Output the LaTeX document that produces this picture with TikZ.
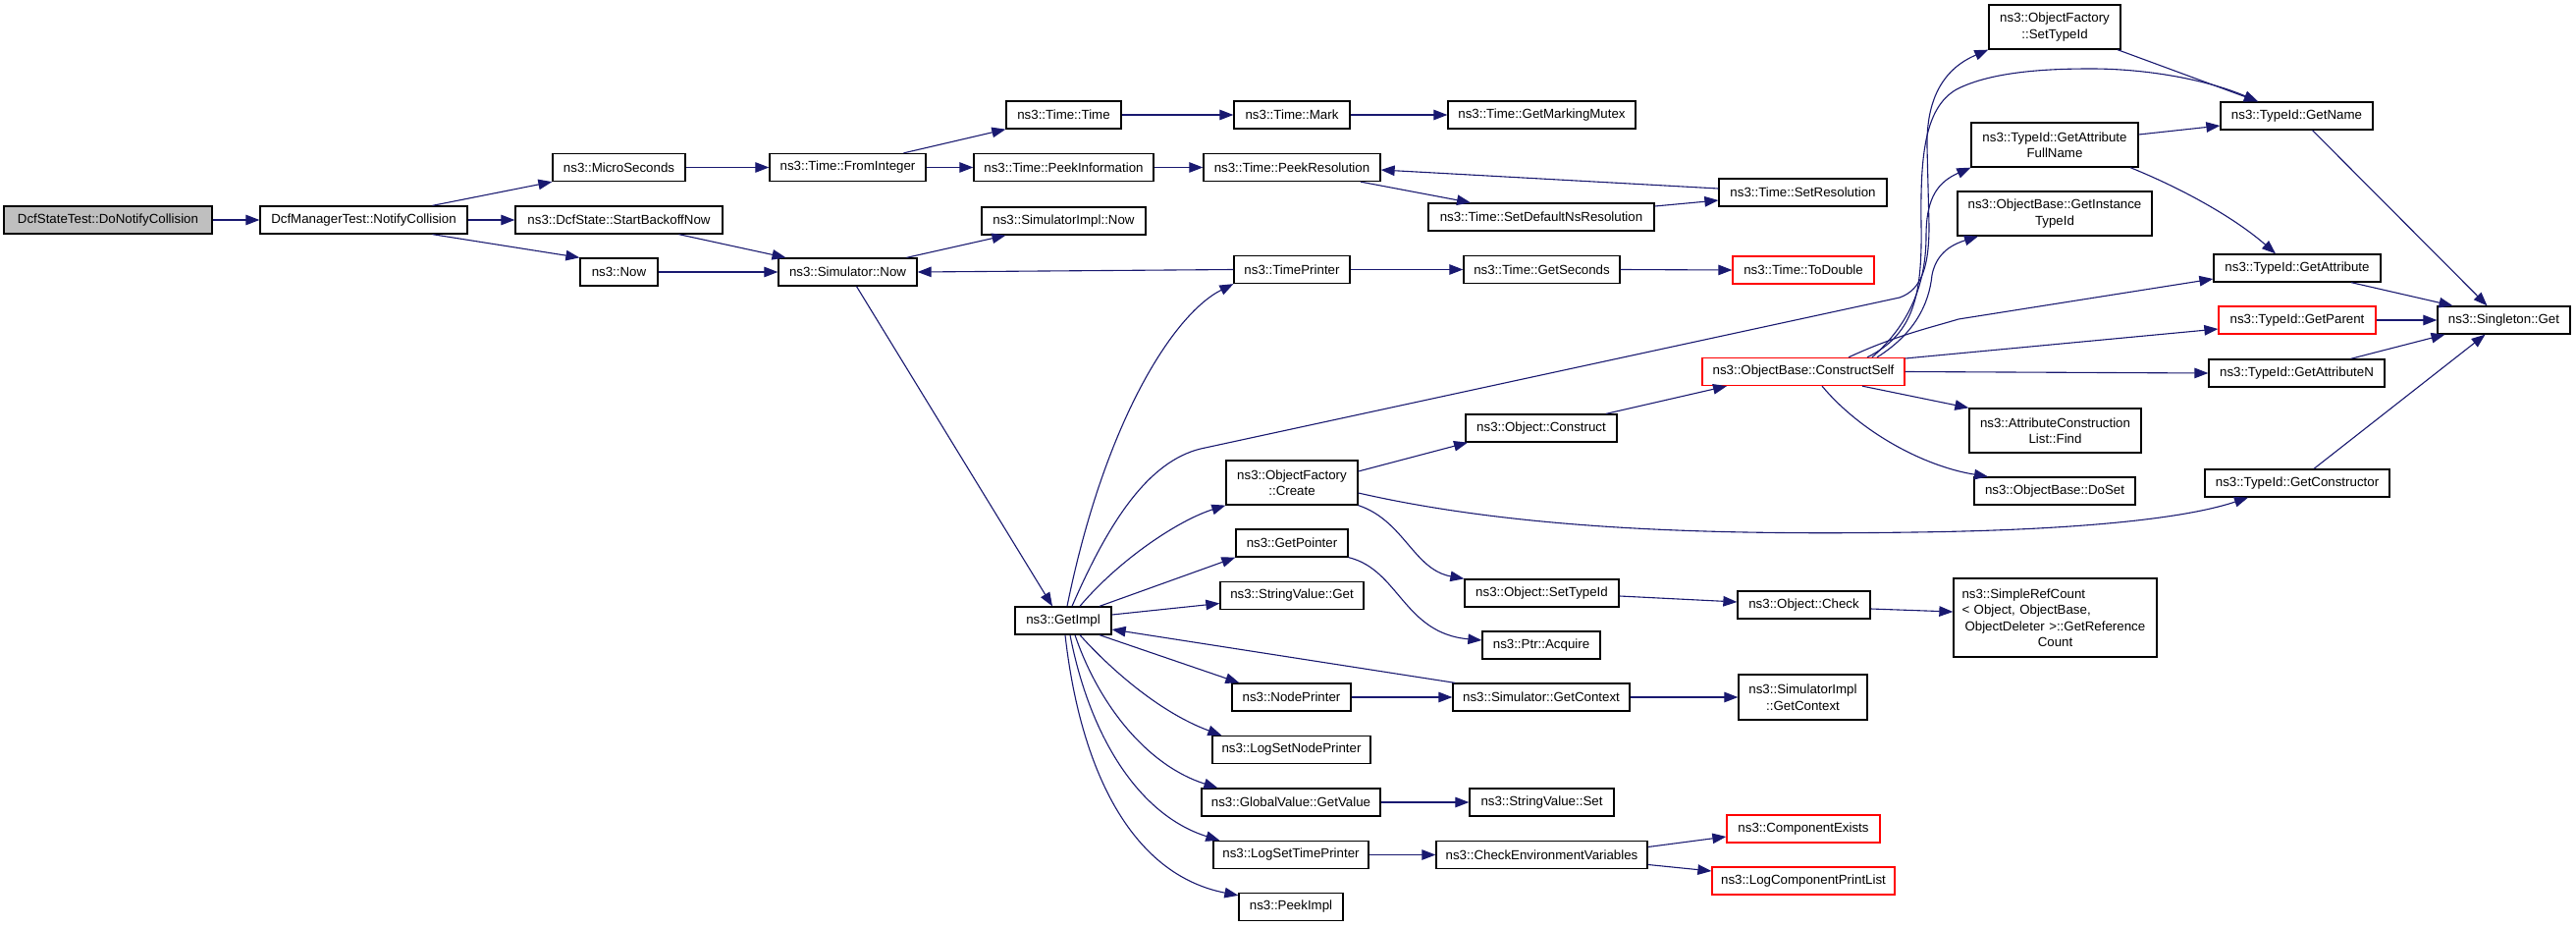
\documentclass[tikz,border=0pt]{standalone}
\usepackage{fontspec}
\setmainfont{Liberation Sans}
\usetikzlibrary{arrows.meta}
\definecolor{edgecol}{HTML}{191970}
\definecolor{rootfill}{HTML}{BFBFBF}
\definecolor{redb}{HTML}{FF0000}
\begin{document}
\begin{tikzpicture}[x=1pt,y=-1pt,
  box/.style={draw=black, line width=1.3pt, inner sep=0pt, minimum height=28pt, align=center,
    font=\fontsize{13.3}{16.5}\selectfont},
  box2/.style={box, minimum height=45pt},
  redbox/.style={box, draw=redb},
  cg/.style={draw=edgecol, line width=1.1pt, -{Triangle[length=14pt,width=10.5pt]}}]
\useasboundingbox[fill=white] (0,0) rectangle (2624,944);

% nodes
\node[box, fill=rootfill, minimum width=212pt] (dnc) at (110,224) {DcfStateTest::DoNotifyCollision};
\node[box, minimum width=211pt] (nc) at (370.5,224) {DcfManagerTest::NotifyCollision};
\node[box, minimum width=135pt] (micro) at (630.5,170.5) {ns3::MicroSeconds};
\node[box, minimum width=211pt] (sbn) at (630.5,224) {ns3::DcfState::StartBackoffNow};
\node[box, minimum width=79pt] (now) at (630.5,277) {ns3::Now};
\node[box, minimum width=159pt] (fromint) at (863.5,170.5) {ns3::Time::FromInteger};
\node[box, minimum width=117pt] (ttime) at (1083.5,117) {ns3::Time::Time};
\node[box, minimum width=183pt] (peekinfo) at (1083.5,170.5) {ns3::Time::PeekInformation};
\node[box, minimum width=118pt] (mark) at (1316,117) {ns3::Time::Mark};
\node[box, minimum width=191pt] (mutex) at (1570.5,117) {ns3::Time::GetMarkingMutex};
\node[box, minimum width=180pt] (peekres) at (1316,170.5) {ns3::Time::PeekResolution};
\node[box, minimum width=230pt] (setdef) at (1570,221) {ns3::Time::SetDefaultNsResolution};
\node[box, minimum width=171pt] (setres) at (1836.5,196) {ns3::Time::SetResolution};
\node[box, minimum width=141pt] (simnow) at (863.5,277) {ns3::Simulator::Now};
\node[box, minimum width=167pt] (simimplnow) at (1083.5,225) {ns3::SimulatorImpl::Now};
\node[box, minimum width=118pt] (timeprinter) at (1316,274.5) {ns3::TimePrinter};
\node[box, minimum width=159pt] (getsec) at (1570.5,274.5) {ns3::Time::GetSeconds};
\node[redbox, minimum width=144pt] (todouble) at (1837,275) {ns3::Time::ToDouble};
\node[box2, minimum width=134pt] (setTypeIdF) at (2093,27.5) {ns3::ObjectFactory\\::SetTypeId};
\node[box, minimum width=155pt] (getname) at (2339.5,118) {ns3::TypeId::GetName};
\node[box2, minimum width=170pt] (getattrfull) at (2093,147.5) {ns3::TypeId::GetAttribute\\FullName};
\node[box2, minimum width=198pt] (getinst) at (2093,217.5) {ns3::ObjectBase::GetInstance\\TypeId};
\node[box, minimum width=170pt] (getattr) at (2340,273) {ns3::TypeId::GetAttribute};
\node[redbox, minimum width=160pt] (getparent) at (2340,326) {ns3::TypeId::GetParent};
\node[box, minimum width=135pt] (singleton) at (2550.5,326) {ns3::Singleton::Get};
\node[redbox, minimum width=206pt] (constructself) at (1837,378.5) {ns3::ObjectBase::ConstructSelf};
\node[box, minimum width=179pt] (getattrN) at (2339.5,380) {ns3::TypeId::GetAttributeN};
\node[box2, minimum width=175pt] (find) at (2093.5,438.5) {ns3::AttributeConstruction\\List::Find};
\node[box, minimum width=164pt] (doset) at (2093,500) {ns3::ObjectBase::DoSet};
\node[box, minimum width=188pt] (getctor) at (2340,492) {ns3::TypeId::GetConstructor};
\node[box, minimum width=154pt] (construct) at (1570,436) {ns3::Object::Construct};
\node[box2, minimum width=134pt] (create) at (1316,491.5) {ns3::ObjectFactory\\::Create};
\node[box, minimum width=114pt] (getpointer) at (1316,553) {ns3::GetPointer};
\node[box, minimum width=146pt] (svget) at (1316,606.5) {ns3::StringValue::Get};
\node[box, minimum width=157pt] (osettypeid) at (1570.5,604) {ns3::Object::SetTypeId};
\node[box, minimum width=135pt] (check) at (1837.5,616) {ns3::Object::Check};
\node[box, minimum width=207pt, minimum height=80pt, text width=190pt, align=left] (simpleref) at (2093.5,629)
  {\mbox{ns3::SimpleRefCount}\\\mbox{{<} Object, ObjectBase,}\\\mbox{\hspace*{3pt}ObjectDeleter {>}::GetReference}\\\makebox[190pt][c]{Count}};
\node[box, minimum width=98pt] (getimpl) at (1083,632) {ns3::GetImpl};
\node[box, minimum width=120pt] (acquire) at (1570,657) {ns3::Ptr::Acquire};
\node[box, minimum width=121pt] (nodeprinter) at (1315.5,710) {ns3::NodePrinter};
\node[box, minimum width=180pt] (simgetctx) at (1570,710) {ns3::Simulator::GetContext};
\node[box, minimum width=131pt, minimum height=46pt] (simimplctx) at (1836.5,710) {ns3::SimulatorImpl\\::GetContext};
\node[box, minimum width=161pt] (logsetnode) at (1315.5,763.5) {ns3::LogSetNodePrinter};
\node[box, minimum width=182pt] (gvget) at (1315,817) {ns3::GlobalValue::GetValue};
\node[box, minimum width=147pt] (svset) at (1570.5,817) {ns3::StringValue::Set};
\node[redbox, minimum width=156pt] (compexists) at (1837,844) {ns3::ComponentExists};
\node[box, minimum width=158pt] (logsettime) at (1315,870.5) {ns3::LogSetTimePrinter};
\node[box, minimum width=215pt] (checkenv) at (1570.5,870.5) {ns3::CheckEnvironmentVariables};
\node[redbox, minimum width=186pt] (logcpl) at (1837,897) {ns3::LogComponentPrintList};
\node[box, minimum width=106pt] (peekimpl) at (1315,923.5) {ns3::PeekImpl};

% edges
\draw[cg] (dnc.east) -- (nc.west);
\draw[cg] ([xshift=70pt]nc.north) -- (micro.south west);
\draw[cg] (nc.east) -- (sbn.west);
\draw[cg] ([xshift=70pt]nc.south) -- (now.north west);
\draw[cg] (micro.east) -- (fromint.west);
\draw[cg] ([xshift=57pt]fromint.north) -- (ttime.south west);
\draw[cg] (fromint.east) -- (peekinfo.west);
\draw[cg] (ttime.east) -- (mark.west);
\draw[cg] (mark.east) -- (mutex.west);
\draw[cg] (peekinfo.east) -- (peekres.west);
\draw[cg] ([xshift=70pt]peekres.south) -- ([xshift=-72pt]setdef.north);
\draw[cg] ([yshift=11pt]setdef.east) -- ([yshift=-8pt]setres.west);
\draw[cg] ([yshift=4pt]setres.west) -- ([yshift=-2.5pt]peekres.east);
\draw[cg] ([xshift=61pt]sbn.south) -- ([xshift=-63pt]simnow.north);
\draw[cg] (now.east) -- (simnow.west);
\draw[cg] ([xshift=60pt]simnow.north) -- ([xshift=-59pt]simimplnow.south);
\draw[cg] ([xshift=9pt]simnow.south) -- ([xshift=-11pt]getimpl.north);
\draw[cg] (timeprinter.west) -- (simnow.east);
\draw[cg] (timeprinter.east) -- (getsec.west);
\draw[cg] (getsec.east) -- (todouble.west);

\draw[cg] ([xshift=4pt]getimpl.north) .. controls (1125,430) and (1195,320) .. (timeprinter.south west);
\draw[cg] ([xshift=9pt]getimpl.north) .. controls (1130,530) and (1170,470) .. (1223,457)
   -- (1935,303) .. controls (1958,295) and (1965,270) .. (1965,230) -- (1963,150)
   .. controls (1962,100) and (1980,70) .. (setTypeIdF.south west);
\draw[cg] ([xshift=65pt]constructself.north) .. controls (1950,340) and (1958,300) .. (1957,230)
   .. controls (1956,160) and (1960,110) .. (1993,91) .. controls (2030,72) and (2090,70) .. (2130,70)
   .. controls (2190,70) and (2250,82) .. ([xshift=-39.5pt]getname.north);
\draw[cg] ([xshift=70pt]constructself.north) .. controls (1945,330) and (1962,290) .. (1962,240)
   .. controls (1962,200) and (1975,185) .. (getattrfull.south west);
\draw[cg] ([xshift=75pt]constructself.north) .. controls (1950,340) and (1965,310) .. (1968,280)
   .. controls (1972,260) and (1985,250) .. ([xshift=-78pt]getinst.south);
\draw[cg] ([xshift=46pt]constructself.north) .. controls (1930,342) and (1965,334) .. (1995,325)
   -- ([yshift=-11pt]getattr.west);
\draw[cg] ([yshift=13.5pt]constructself.east) -- ([yshift=-9pt]getparent.west);
\draw[cg] (constructself.east) -- (getattrN.west);
\draw[cg] ([xshift=60pt]constructself.south) -- (find.north west);
\draw[cg] ([xshift=19pt]constructself.south) .. controls (1895,440) and (1960,475) .. ([xshift=-68pt]doset.north);

\draw[cg] ([xshift=16pt]getname.south) -- ([xshift=-17pt]singleton.north);
\draw[cg] ([xshift=55pt]getattr.south) -- ([xshift=-52pt]singleton.north);
\draw[cg] (getparent.east) -- (singleton.west);
\draw[cg] ([xshift=55pt]getattrN.north) -- ([xshift=-60pt]singleton.south);
\draw[cg] ([xshift=17pt]getctor.north) -- ([xshift=-19pt]singleton.south);
\draw[cg] ([yshift=10.5pt]getattrfull.east) -- ([yshift=-10pt]getname.west);
\draw[cg] ([xshift=77pt]getattrfull.south) .. controls (2230,195) and (2280,225) .. ([xshift=-22pt]getattr.north);
\draw[cg] ([xshift=64pt]setTypeIdF.south) -- ([xshift=-39.5pt]getname.north);

\draw[cg] ([yshift=11.5pt]create.east) -- ([xshift=-75pt]construct.south);
\draw[cg] ([yshift=-10.5pt]create.east) .. controls (1550,540) and (1750,545) .. (1950,542)
   .. controls (2100,540) and (2220,530) .. ([xshift=-50pt]getctor.south);
\draw[cg] (create.south east) .. controls (1430,530) and (1440,580) .. (osettypeid.north west);
\draw[cg] ([xshift=66pt]construct.north) -- ([xshift=-78pt]constructself.south);
\draw[cg] ([yshift=-3pt]osettypeid.east) -- ([yshift=3pt]check.west);
\draw[cg] ([yshift=-4pt]check.east) -- ([yshift=6pt]simpleref.west);
\draw[cg] (getpointer.south east) .. controls (1425,580) and (1430,645) .. ([yshift=5pt]acquire.west);

\draw[cg] ([xshift=17pt]getimpl.north) .. controls (1140,570) and (1200,530) .. (create.south west);
\draw[cg] ([xshift=37pt]getimpl.north) -- (getpointer.south west);
\draw[cg] ([yshift=6pt]getimpl.east) -- ([yshift=-8pt]svget.west);
\draw[cg] ([xshift=-88pt]simgetctx.north) -- ([yshift=-9pt]getimpl.east);
\draw[cg] ([xshift=37pt]getimpl.south) -- ([xshift=8pt]nodeprinter.north west);
\draw[cg] ([xshift=17pt]getimpl.south) .. controls (1130,680) and (1180,725) .. ([xshift=10pt]logsetnode.north west);
\draw[cg] ([xshift=12pt]getimpl.south) .. controls (1120,720) and (1170,780) .. ([xshift=17pt]gvget.north west);
\draw[cg] ([xshift=7pt]getimpl.south) .. controls (1110,750) and (1160,830) .. ([xshift=7pt]logsettime.north west);
\draw[cg] ([xshift=2pt]getimpl.south) .. controls (1100,780) and (1150,890) .. ([yshift=-3pt]peekimpl.north west);

\draw[cg] (nodeprinter.east) -- (simgetctx.west);
\draw[cg] (simgetctx.east) -- (simimplctx.west);
\draw[cg] (gvget.east) -- (svset.west);
\draw[cg] (logsettime.east) -- (checkenv.west);
\draw[cg] ([yshift=8pt]checkenv.east) -- ([yshift=-8pt]compexists.west);
\draw[cg] ([yshift=-10pt]checkenv.east) -- ([yshift=10pt]logcpl.west);
\end{tikzpicture}
\end{document}
